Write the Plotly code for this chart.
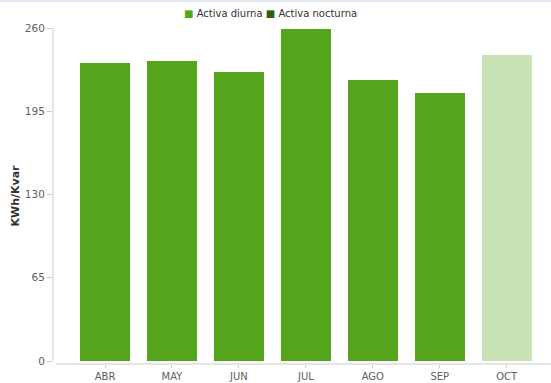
import plotly.graph_objects as go

months = ["ABR", "MAY", "JUN", "JUL", "AGO", "SEP", "OCT"]
activa_diurna = [233, 235, 226, 260, 220, 210, 239]
activa_nocturna = [0, 0, 0, 0, 0, 0, 0]
bar_colors = ["#55a51c"] * 6 + ["#c9e3b5"]
y_ticks = [0, 65, 130, 195, 260]
series_names = ["Activa diurna", "Activa nocturna"]
series_colors = ["#55a51c", "#2e5e14"]

W, H = 551, 383
ml, mr, mt, mb = 53, 0, 28, 19
PW, PH = W - ml - mr, H - mt - mb

fig = go.Figure()
fig.add_trace(go.Bar(
    x=months, y=activa_diurna, name=series_names[0],
    marker=dict(color=bar_colors, line=dict(color="#ffffff", width=1)),
))
fig.add_trace(go.Bar(
    x=months, y=activa_nocturna, name=series_names[1],
    marker=dict(color=series_colors[1], line=dict(color="#ffffff", width=1)),
))

fig.update_layout(
    width=W, height=H,
    margin=dict(l=ml, r=mr, t=mt, b=mb, pad=0, autoexpand=False),
    paper_bgcolor="white", plot_bgcolor="white",
    barmode="stack", bargap=0.238,
    font=dict(family="DejaVu Sans", size=10.5, color="#606060"),
    showlegend=False,
    xaxis=dict(range=[-0.777, 6.662], showline=False, showgrid=False, zeroline=False,
               ticks="outside", ticklen=3, tickcolor="#cccccc", tickfont=dict(size=10, color="#606060"),
               fixedrange=True, automargin=False),
    yaxis=dict(range=[-2.34, 260], tickvals=y_ticks, showgrid=False, zeroline=False,
               showline=False, ticks="outside", ticklen=5, tickcolor="#cccccc",
               tickfont=dict(size=10.5, color="#606060"),
               title=dict(text="<b>KWh/Kvar</b>", font=dict(size=11, color="#333333", family="DejaVu Sans"),
                          standoff=3),
               fixedrange=True, automargin=False),
)

# legend drawn as one annotation (square markers + labels), centred as in the reference
legend_text = "&nbsp;".join(
    f"<span style='color:{col}'>■</span> {name}" for name, col in zip(series_names, series_colors)
)
fig.add_annotation(xref="paper", yref="paper", x=(270 - ml) / PW, y=1 + (mt - 14) / PH,
                   xanchor="center", yanchor="middle", showarrow=False, text=legend_text,
                   font=dict(size=10, color="#333333", family="DejaVu Sans"))

# axis lines
fig.add_shape(type="line", xref="paper", yref="y", x0=0, x1=0, y0=0, y1=260,
              line=dict(color="#cccccc", width=1))
fig.add_shape(type="line", xref="paper", yref="paper", x0=3 / PW, x1=1, y0=0, y1=0,
              line=dict(color="#cccccc", width=1))
# faint top border
fig.add_shape(type="line", xref="paper", yref="paper", x0=-ml / PW, x1=1,
              y0=1 + (mt - 1) / PH, y1=1 + (mt - 1) / PH,
              line=dict(color="#e3eaf5", width=2))

fig.write_html("out.html")
